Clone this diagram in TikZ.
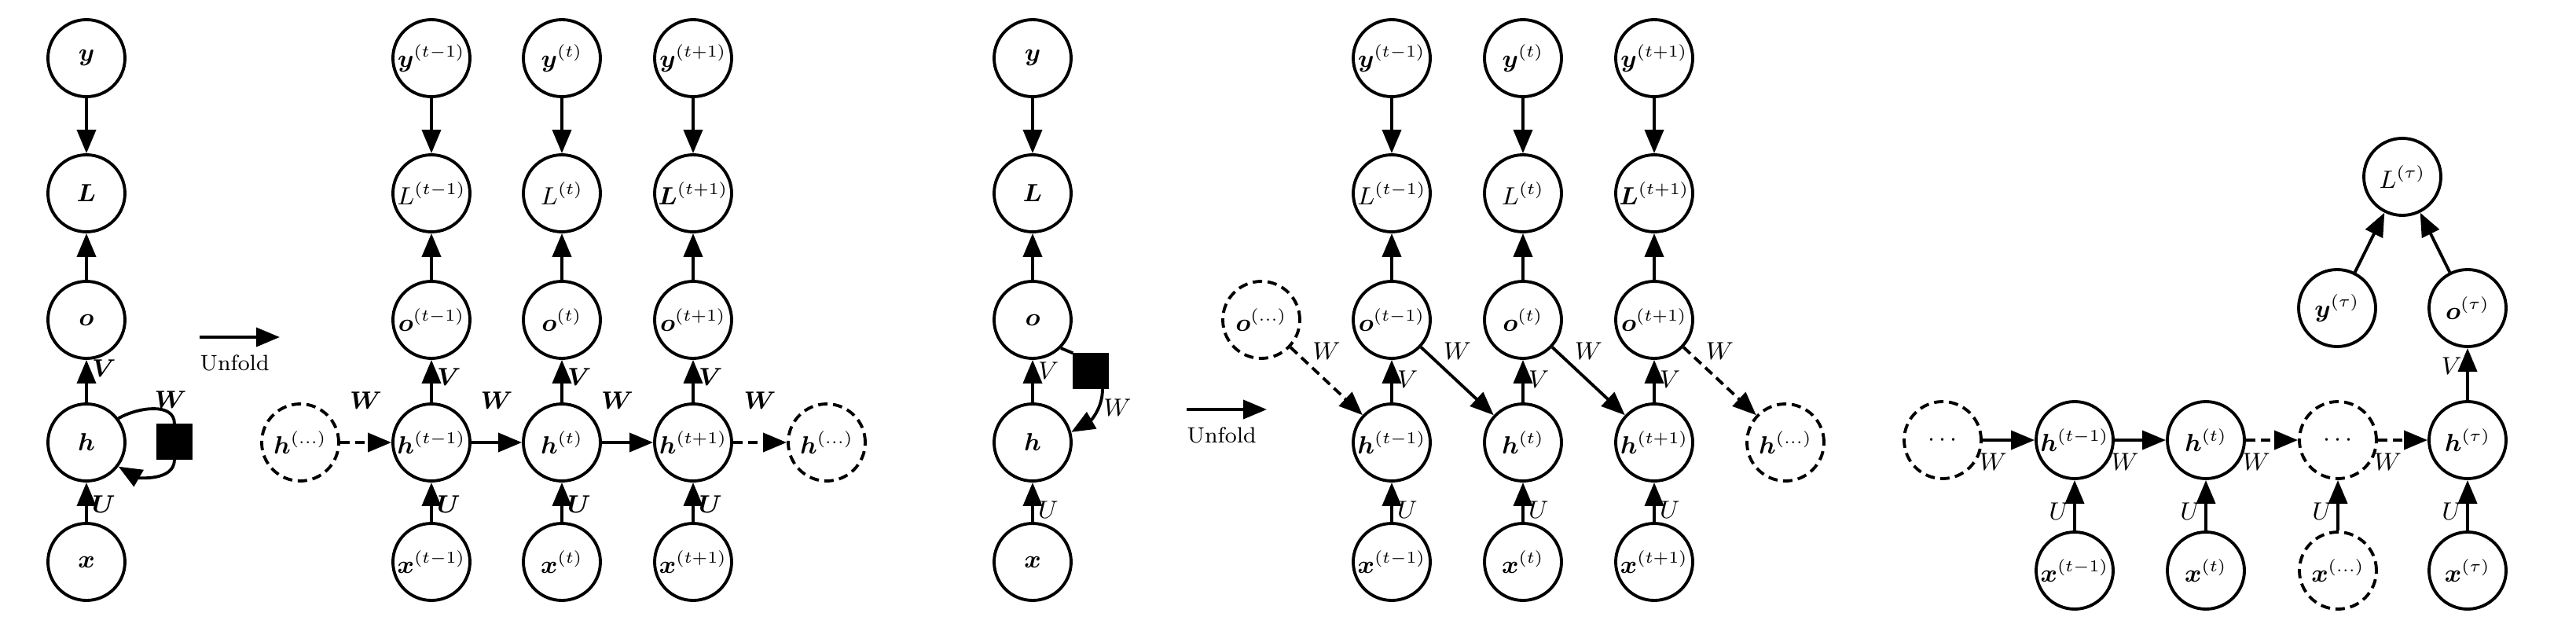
\documentclass[tikz,border=0pt]{standalone}
\usepackage{bm}
\usepackage{tikz}
\usetikzlibrary{arrows.meta,positioning}

\begin{document}
\begin{tikzpicture}[
  unit/.style={circle,draw,line width=1.1pt,minimum size=0.98cm,inner sep=0pt,font=\small},
  ghost/.style={unit,dash pattern=on 3.4pt off 2pt},
  gate/.style={rectangle,draw,fill=black,minimum size=0.44cm,inner sep=0pt},
  arr/.style={line width=1.1pt,-{Triangle[length=3mm,width=2.4mm]}},
  farr/.style={arr,dash pattern=on 3.4pt off 2pt},
  lab/.style={font=\small,inner sep=1.5pt}]
\useasboundingbox (0,0) rectangle (32.78,8.07);

\node[unit] (y) at (1.10,7.33) {$\bm{y}$};
\node[unit] (L) at (1.10,5.61) {$\bm{L}$};
\node[unit] (o) at (1.10,4.00) {$\bm{o}$};
\node[unit] (h) at (1.10,2.44) {$\bm{h}$};
\node[unit] (x) at (1.10,0.92) {$\bm{x}$};
\node[gate] (sq) at (2.22,2.45) {};
\draw[arr] (y) -- (L);
\draw[arr] (o) -- (L);
\draw[arr] (h) -- node[lab,right,pos=0.8] {$\bm{V}$} (o);
\draw[arr] (x) -- node[lab,right,pos=0.45] {$\bm{U}$} (h);
\draw[line width=1.1pt] (h.37) to[out=30,in=90] node[lab,above,pos=0.8] {$\bm{W}$} (sq.north);
\draw[arr] (sq.south) to[out=-90,in=-30] (h.-37);

\coordinate (fold1s) at (2.54,3.78);
\coordinate (fold1e) at (3.56,3.78);
\draw[arr] (fold1s) -- (fold1e);
\node[anchor=north west,inner sep=0pt,font=\footnotesize] (fold1) at ([yshift=-0.22cm]fold1s) {Unfold};

\node[ghost] (hl) at (3.82,2.44) {$\bm{h}^{(\ldots)}$};
\node[unit] (ya) at (5.49,7.33) {$\bm{y}^{(t-1)}$};
\node[unit] (La) at (5.49,5.61) {$L^{(t-1)}$};
\node[unit] (oa) at (5.49,4.00) {$\bm{o}^{(t-1)}$};
\node[unit] (ha) at (5.49,2.44) {$\bm{h}^{(t-1)}$};
\node[unit] (xa) at (5.49,0.92) {$\bm{x}^{(t-1)}$};
\node[unit] (yb) at (7.15,7.33) {$\bm{y}^{(t)}$};
\node[unit] (Lb) at (7.15,5.61) {$L^{(t)}$};
\node[unit] (ob) at (7.15,4.00) {$\bm{o}^{(t)}$};
\node[unit] (hb) at (7.15,2.44) {$\bm{h}^{(t)}$};
\node[unit] (xb) at (7.15,0.92) {$\bm{x}^{(t)}$};
\node[unit] (yc) at (8.82,7.33) {$\bm{y}^{(t+1)}$};
\node[unit] (Lc) at (8.82,5.61) {$\bm{L}^{(t+1)}$};
\node[unit] (oc) at (8.82,4.00) {$\bm{o}^{(t+1)}$};
\node[unit] (hc) at (8.82,2.44) {$\bm{h}^{(t+1)}$};
\node[unit] (xc) at (8.82,0.92) {$\bm{x}^{(t+1)}$};
\node[ghost] (hr) at (10.52,2.44) {$\bm{h}^{(\ldots)}$};
\draw[arr] (ya) -- (La);
\draw[arr] (oa) -- (La);
\draw[arr] (ha) -- node[lab,right,pos=0.6] {$\bm{V}$} (oa);
\draw[arr] (xa) -- node[lab,right,pos=0.45] {$\bm{U}$} (ha);
\draw[arr] (yb) -- (Lb);
\draw[arr] (ob) -- (Lb);
\draw[arr] (hb) -- node[lab,right,pos=0.6] {$\bm{V}$} (ob);
\draw[arr] (xb) -- node[lab,right,pos=0.45] {$\bm{U}$} (hb);
\draw[arr] (yc) -- (Lc);
\draw[arr] (oc) -- (Lc);
\draw[arr] (hc) -- node[lab,right,pos=0.6] {$\bm{V}$} (oc);
\draw[arr] (xc) -- node[lab,right,pos=0.45] {$\bm{U}$} (hc);
\draw[farr] (hl) -- node[lab,above=3.5mm] {$\bm{W}$} (ha);
\draw[arr] (ha) -- node[lab,above=3.5mm] {$\bm{W}$} (hb);
\draw[arr] (hb) -- node[lab,above=3.5mm,pos=0.3] {$\bm{W}$} (hc);
\draw[farr] (hc) -- node[lab,above=3.5mm] {$\bm{W}$} (hr);

\node[unit] (y2) at (13.14,7.33) {$\bm{y}$};
\node[unit] (L2) at (13.14,5.61) {$\bm{L}$};
\node[unit] (o2) at (13.14,4.00) {$\bm{o}$};
\node[unit] (h2) at (13.14,2.44) {$\bm{h}$};
\node[unit] (x2) at (13.14,0.92) {$\bm{x}$};
\node[gate] (sq2) at (13.88,3.35) {};
\draw[arr] (y2) -- (L2);
\draw[arr] (o2) -- (L2);
\draw[arr] (h2) -- node[lab,right,pos=0.75] {$V$} (o2);
\draw[arr] (x2) -- node[lab,right,pos=0.3] {$U$} (h2);
\draw[line width=1.1pt] (o2.-45) -- (sq2.north west);
\draw[arr] ([xshift=1.5mm]sq2.south) to[out=-90,in=30] node[lab,right,pos=0.35] {$W$} (h2.15);

\coordinate (fold2s) at (15.10,2.86);
\coordinate (fold2e) at (16.12,2.86);
\draw[arr] (fold2s) -- (fold2e);
\node[anchor=north west,inner sep=0pt,font=\footnotesize] (fold2) at ([yshift=-0.22cm]fold2s) {Unfold};

\node[ghost] (od) at (16.05,4.00) {$\bm{o}^{(\ldots)}$};
\node[unit] (ya2) at (17.71,7.33) {$\bm{y}^{(t-1)}$};
\node[unit] (La2) at (17.71,5.61) {$L^{(t-1)}$};
\node[unit] (oa2) at (17.71,4.00) {$\bm{o}^{(t-1)}$};
\node[unit] (ha2) at (17.71,2.44) {$\bm{h}^{(t-1)}$};
\node[unit] (xa2) at (17.71,0.92) {$\bm{x}^{(t-1)}$};
\node[unit] (yb2) at (19.38,7.33) {$\bm{y}^{(t)}$};
\node[unit] (Lb2) at (19.38,5.61) {$L^{(t)}$};
\node[unit] (ob2) at (19.38,4.00) {$\bm{o}^{(t)}$};
\node[unit] (hb2) at (19.38,2.44) {$\bm{h}^{(t)}$};
\node[unit] (xb2) at (19.38,0.92) {$\bm{x}^{(t)}$};
\node[unit] (yc2) at (21.05,7.33) {$\bm{y}^{(t+1)}$};
\node[unit] (Lc2) at (21.05,5.61) {$\bm{L}^{(t+1)}$};
\node[unit] (oc2) at (21.05,4.00) {$\bm{o}^{(t+1)}$};
\node[unit] (hc2) at (21.05,2.44) {$\bm{h}^{(t+1)}$};
\node[unit] (xc2) at (21.05,0.92) {$\bm{x}^{(t+1)}$};
\node[ghost] (hr2) at (22.72,2.44) {$\bm{h}^{(\ldots)}$};
\draw[arr] (ya2) -- (La2);
\draw[arr] (oa2) -- (La2);
\draw[arr] (ha2) -- node[lab,right,pos=0.55] {$V$} (oa2);
\draw[arr] (xa2) -- node[lab,right,pos=0.3] {$U$} (ha2);
\draw[arr] (yb2) -- (Lb2);
\draw[arr] (ob2) -- (Lb2);
\draw[arr] (hb2) -- node[lab,right,pos=0.55] {$V$} (ob2);
\draw[arr] (xb2) -- node[lab,right,pos=0.3] {$U$} (hb2);
\draw[arr] (yc2) -- (Lc2);
\draw[arr] (oc2) -- (Lc2);
\draw[arr] (hc2) -- node[lab,right,pos=0.55] {$V$} (oc2);
\draw[arr] (xc2) -- node[lab,right,pos=0.3] {$U$} (hc2);
\draw[farr] (od) -- node[lab,above=2mm] {$W$} (ha2);
\draw[arr] (oa2) -- node[lab,above=2mm] {$W$} (hb2);
\draw[arr] (ob2) -- node[lab,above=2mm] {$W$} (hc2);
\draw[farr] (oc2) -- node[lab,above=2mm] {$W$} (hr2);

\node[ghost] (dA) at (24.72,2.47) {$\cdots$};
\node[unit] (hA) at (26.40,2.47) {$\bm{h}^{(t-1)}$};
\node[unit] (hB) at (28.07,2.47) {$\bm{h}^{(t)}$};
\node[ghost] (dB) at (29.75,2.47) {$\cdots$};
\node[unit] (hT) at (31.40,2.47) {$\bm{h}^{(\tau)}$};
\node[unit] (xA) at (26.40,0.81) {$\bm{x}^{(t-1)}$};
\node[unit] (xB) at (28.07,0.81) {$\bm{x}^{(t)}$};
\node[ghost] (xD) at (29.75,0.81) {$\bm{x}^{(\ldots)}$};
\node[unit] (xT) at (31.40,0.81) {$\bm{x}^{(\tau)}$};
\node[unit] (yT) at (29.74,4.15) {$\bm{y}^{(\tau)}$};
\node[unit] (oT) at (31.40,4.15) {$\bm{o}^{(\tau)}$};
\node[unit] (LT) at (30.57,5.82) {$L^{(\tau)}$};
\draw[arr] (dA) -- node[lab,below=1mm,pos=0.2] {$W$} (hA);
\draw[arr] (hA) -- node[lab,below=1mm,pos=0.2] {$W$} (hB);
\draw[farr] (hB) -- node[lab,below=1mm,pos=0.2] {$W$} (dB);
\draw[farr] (dB) -- node[lab,below=1mm,pos=0.2] {$W$} (hT);
\draw[arr] (xA) -- node[lab,left,pos=0.38] {$U$} (hA);
\draw[arr] (xB) -- node[lab,left,pos=0.38] {$U$} (hB);
\draw[arr] (xD) -- node[lab,left,pos=0.38] {$U$} (dB);
\draw[arr] (xT) -- node[lab,left,pos=0.38] {$U$} (hT);
\draw[arr] (hT) -- node[lab,left,pos=0.65] {$V$} (oT);
\draw[arr] (yT) -- (LT);
\draw[arr] (oT) -- (LT);
\end{tikzpicture}
\end{document}
